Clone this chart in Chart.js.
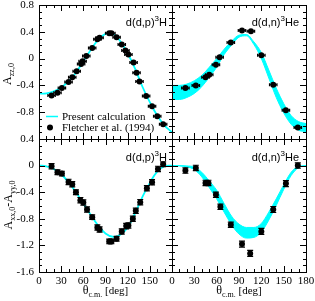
<!DOCTYPE html>
<html lang="en">
<head>
<meta charset="UTF-8">
<title>d(d,p) and d(d,n) tensor analyzing powers</title>
<script src="https://cdn.jsdelivr.net/npm/chart.js"></script>
<style>
  body { margin: 0; background: #fff; }
  #fig { position: relative; width: 315px; height: 301px; }
  #fig canvas { position: absolute; left: 0; top: 0; }
</style>
</head>
<body>
<div id="fig">
  <canvas id="tl" width="315" height="301"></canvas>
  <canvas id="tr" width="315" height="301"></canvas>
  <canvas id="bl" width="315" height="301"></canvas>
  <canvas id="br" width="315" height="301"></canvas>
</div>
<script>
// angle grid of the calculation (deg, c.m.)
const theta = [0, 10, 20, 30, 40, 50, 60, 70, 80, 90, 100, 110, 120, 130, 140, 150, 160, 170, 180];

// A_zz,0  d(d,p)3H
const ddpAzzCalc = [-0.52, -0.52, -0.49, -0.43, -0.34, -0.21, -0.04, 0.13, 0.28, 0.37, 0.37, 0.26, 0.08, -0.15, -0.42, -0.65, -0.85, -1.0, -1.1];
const ddpAzzAng = [17, 25, 31, 40, 45, 51, 57, 59, 64, 72, 79, 82, 95, 98, 105, 112, 117, 121, 128, 132, 136, 145, 153, 160, 168];
const ddpAzzVal = [-0.55, -0.51, -0.44, -0.35, -0.28, -0.19, -0.08, -0.04, 0.04, 0.16, 0.29, 0.31, 0.38, 0.38, 0.32, 0.21, 0.12, 0.06, -0.06, -0.21, -0.34, -0.56, -0.71, -0.86, -0.98];

// A_zz,0  d(d,n)3He (band)
const ddnAzzHi = [-0.40, -0.40, -0.38, -0.33, -0.25, -0.13, 0.0, 0.14, 0.26, 0.35, 0.36, 0.25, 0.09, -0.17, -0.44, -0.67, -0.85, -0.94, -0.97];
const ddnAzzLo = [-0.61, -0.61, -0.58, -0.52, -0.42, -0.28, -0.13, 0.06, 0.20, 0.32, 0.34, 0.21, 0.0, -0.29, -0.58, -0.81, -0.98, -1.07, -1.09];
const ddnAzzAng = [18, 32, 45, 50, 59, 64, 79, 94, 106, 120, 136, 153, 169];
const ddnAzzVal = [-0.44, -0.40, -0.28, -0.24, -0.09, 0.02, 0.24, 0.42, 0.41, 0.05, -0.39, -0.77, -1.03];

// A_xx,0 - A_yy,0  d(d,p)3H
const ddpAxyCalc = [0, -0.01, -0.05, -0.13, -0.25, -0.40, -0.57, -0.74, -0.90, -1.02, -1.07, -1.04, -0.93, -0.72, -0.47, -0.26, -0.09, -0.01, 0];
const ddpAxyAng = [17, 25, 31, 40, 45, 50, 56, 60, 65, 72, 79, 82, 95, 98, 105, 112, 118, 121, 127, 131, 137, 146, 153, 161, 168];
const ddpAxyVal = [-0.01, -0.10, -0.12, -0.245, -0.28, -0.40, -0.52, -0.555, -0.66, -0.775, -0.93, -0.96, -1.14, -1.14, -1.10, -0.99, -0.91, -0.90, -0.80, -0.68, -0.55, -0.34, -0.25, -0.05, 0.02];
const ddpAxyErr = [0.04, 0.035, 0.035, 0.04, 0.04, 0.035, 0.04, 0.04, 0.04, 0.035, 0.04, 0.04, 0.035, 0.035, 0.035, 0.04, 0.04, 0.04, 0.04, 0.04, 0.04, 0.04, 0.04, 0.04, 0.035];

// A_xx,0 - A_yy,0  d(d,n)3He (band)
const ddnAxyHi = [0, 0, -0.005, -0.02, -0.10, -0.23, -0.37, -0.57, -0.76, -0.88, -0.93, -0.93, -0.87, -0.70, -0.50, -0.29, -0.10, -0.015, 0];
const ddnAxyLo = [0, -0.005, -0.02, -0.06, -0.17, -0.33, -0.50, -0.70, -0.89, -1.03, -1.09, -1.08, -1.00, -0.82, -0.60, -0.36, -0.15, -0.03, 0];
const ddnAxyAng = [18, 32, 45, 49, 59, 65, 79, 94, 105, 120, 136, 153, 169];
const ddnAxyVal = [-0.075, -0.035, -0.26, -0.26, -0.44, -0.62, -0.89, -1.18, -1.32, -0.99, -0.66, -0.27, 0.0];
const ddnAxyErr = [0.04, 0.04, 0.04, 0.04, 0.04, 0.04, 0.04, 0.045, 0.045, 0.045, 0.045, 0.045, 0.04];

// horizontal (angular) error of the A_zz,0 data, deg
const angErr = 5;

const CYAN = '#00ffff';
const SERIF = '"Liberation Serif", "Times New Roman", serif';
const SANS = '"Liberation Sans", Arial, sans-serif';

// frame edges in page pixels
const X0 = 39, XM = 172, X1 = 306, Y0 = 5, YM = 139, Y1 = 272;

const pts = (xs, ys) => xs.map((x, i) => ({ x: x, y: ys[i] }));

// text with sub/superscripts: parts = [text, size, dy, family]
function rich(ctx, x, y, parts, align, rot) {
    ctx.save();
    ctx.translate(x, y);
    if (rot) ctx.rotate(rot);
    ctx.fillStyle = '#000';
    ctx.textBaseline = 'alphabetic';
    ctx.textAlign = 'left';
    let w = 0;
    parts.forEach(p => { ctx.font = p[1] + 'px ' + (p[3] || SERIF); w += ctx.measureText(p[0]).width; });
    let cx = align === 'center' ? -w / 2 : (align === 'right' ? -w : 0);
    parts.forEach(p => {
        ctx.font = p[1] + 'px ' + (p[3] || SERIF);
        ctx.fillText(p[0], cx, p[2] || 0);
        cx += ctx.measureText(p[0]).width;
    });
    ctx.restore();
}

const reactP = [['d(d,p)', 11, 0, SANS], ['3', 8, -5, SANS], ['H', 11, 0, SANS]];
const reactN = [['d(d,n)', 11, 0, SANS], ['3', 8, -5, SANS], ['He', 11, 0, SANS]];
const xTitle = [['\u03B8', 12, 0], ['c.m.', 8, 3], [' [deg]', 11, 0]];

const panels = {
    tl: {
        left: true, bottom: false, yMin: -1.2, yMax: 0.8,
        ang: ddpAzzAng, val: ddpAzzVal, dx: angErr,
        calc: [ddpAzzCalc],
        text(ctx) {
            rich(ctx, 167, 26, reactP, 'right');
            rich(ctx, 11, 74, [['A', 12, 0], ['zz,0', 8, 3]], 'center', -Math.PI / 2);
            // legend
            ctx.save();
            ctx.strokeStyle = CYAN; ctx.lineWidth = 1.5;
            ctx.beginPath(); ctx.moveTo(46, 116.5); ctx.lineTo(58, 116.5); ctx.stroke();
            ctx.fillStyle = '#000';
            ctx.beginPath(); ctx.arc(50, 127.5, 3, 0, Math.PI * 2); ctx.fill();
            ctx.restore();
            rich(ctx, 62, 120, [['Present calculation', 11, 0]], 'left');
            rich(ctx, 62, 131, [['Fletcher et al. (1994)', 11, 0]], 'left');
        }
    },
    tr: {
        left: false, bottom: false, yMin: -1.2, yMax: 0.8,
        ang: ddnAzzAng, val: ddnAzzVal, dx: angErr,
        band: [ddnAzzHi, ddnAzzLo],
        text(ctx) { rich(ctx, 299, 26, reactN, 'right'); }
    },
    bl: {
        left: true, bottom: true, yMin: -1.6, yMax: 0.4,
        ang: ddpAxyAng, val: ddpAxyVal, dy: ddpAxyErr,
        calc: [ddpAxyCalc],
        text(ctx) {
            rich(ctx, 167, 161, reactP, 'right');
            rich(ctx, 12, 205, [['A', 12, 0], ['xx,0', 8, 3], ['-A', 12, 0], ['yy,0', 8, 3]], 'center', -Math.PI / 2);
            rich(ctx, (X0 + XM) / 2, 294, xTitle, 'center');
        }
    },
    br: {
        left: false, bottom: true, yMin: -1.6, yMax: 0.4,
        ang: ddnAxyAng, val: ddnAxyVal, dy: ddnAxyErr,
        band: [ddnAxyHi, ddnAxyLo],
        text(ctx) {
            rich(ctx, 299, 161, reactN, 'right');
            rich(ctx, (XM + X1) / 2, 294, xTitle, 'center');
        }
    }
};

// error bars, frame, inward ticks and labels
const decor = {
    id: 'decor',
    afterDatasetsDraw(chart) {
        const p = panels[chart.canvas.id];
        const xs = chart.scales.x, ys = chart.scales.y;
        const ctx = chart.ctx;
        ctx.save();
        ctx.strokeStyle = '#000';
        ctx.lineWidth = 1.2;
        p.ang.forEach((a, i) => {
            const px = xs.getPixelForValue(a), py = ys.getPixelForValue(p.val[i]);
            ctx.beginPath();
            if (p.dx) {
                const x1 = xs.getPixelForValue(a - p.dx), x2 = xs.getPixelForValue(a + p.dx);
                ctx.moveTo(x1, py); ctx.lineTo(x2, py);
                ctx.moveTo(x1, py - 1.5); ctx.lineTo(x1, py + 1.5);
                ctx.moveTo(x2, py - 1.5); ctx.lineTo(x2, py + 1.5);
            }
            if (p.dy) {
                const y1 = ys.getPixelForValue(p.val[i] - p.dy[i]), y2 = ys.getPixelForValue(p.val[i] + p.dy[i]);
                ctx.moveTo(px, y1); ctx.lineTo(px, y2);
                ctx.moveTo(px - 3, y1); ctx.lineTo(px + 3, y1);
                ctx.moveTo(px - 3, y2); ctx.lineTo(px + 3, y2);
            }
            ctx.stroke();
        });
        ctx.restore();
    },
    afterDraw(chart) {
        const p = panels[chart.canvas.id];
        const { left, right, top, bottom } = chart.chartArea;
        const xs = chart.scales.x, ys = chart.scales.y;
        const ctx = chart.ctx;
        ctx.save();
        ctx.strokeStyle = '#000';
        ctx.lineWidth = 1;
        ctx.strokeRect(left + 0.5, top + 0.5, right - left, bottom - top);
        ctx.beginPath();
        for (let v = 0; v <= 180; v += 10) {
            const x = Math.round(xs.getPixelForValue(v)) + 0.5;
            const len = v % 30 === 0 ? 6 : 3;
            ctx.moveTo(x, bottom); ctx.lineTo(x, bottom - len);
            ctx.moveTo(x, top); ctx.lineTo(x, top + len);
        }
        for (let k = Math.round(p.yMin * 10); k <= Math.round(p.yMax * 10); k++) {
            const y = Math.round(ys.getPixelForValue(k / 10)) + 0.5;
            const len = k % 4 === 0 ? 6 : 3;
            ctx.moveTo(left, y); ctx.lineTo(left + len, y);
            ctx.moveTo(right, y); ctx.lineTo(right - len, y);
        }
        ctx.stroke();
        ctx.restore();
        p.text(ctx);
    }
};

function makePanel(id) {
    const p = panels[id];
    const datasets = [{
        data: pts(p.ang, p.val),
        showLine: false,
        pointRadius: 3,
        pointBackgroundColor: '#000',
        pointBorderWidth: 0
    }];
    if (p.calc) {
        datasets.push({
            data: pts(theta, p.calc[0]), showLine: true, pointRadius: 0,
            borderColor: CYAN, borderWidth: 1.8, tension: 0.4, fill: false
        });
    }
    if (p.band) {
        datasets.push({
            data: pts(theta, p.band[0]), showLine: true, pointRadius: 0,
            borderColor: CYAN, borderWidth: 1, cubicInterpolationMode: 'monotone',
            fill: '+1', backgroundColor: CYAN
        });
        datasets.push({
            data: pts(theta, p.band[1]), showLine: true, pointRadius: 0,
            borderColor: CYAN, borderWidth: 1, cubicInterpolationMode: 'monotone', fill: false
        });
    }
    new Chart(document.getElementById(id), {
        type: 'scatter',
        data: { datasets },
        options: {
            responsive: false,
            animation: false,
            devicePixelRatio: 1,
            events: [],
            layout: {
                padding: {
                    left: p.left ? 0 : XM,
                    right: 315 - (p.left ? XM : X1),
                    top: p.bottom ? YM : Y0,
                    bottom: p.bottom ? 0 : 301 - YM
                }
            },
            plugins: { legend: { display: false }, tooltip: { enabled: false } },
            scales: {
                x: {
                    type: 'linear', min: 0, max: 180,
                    grid: { display: false, drawTicks: false },
                    border: { display: false },
                    ticks: {
                        display: p.bottom, stepSize: 30, padding: 3, color: '#000',
                        maxRotation: 0, minRotation: 0, autoSkip: false,
                        font: { family: SERIF, size: 11 },
                        callback: v => (p.left && v === 180) ? '' : String(v)
                    },
                    afterFit: s => {
                        s.height = p.bottom ? 301 - Y1 : 0;
                        s.paddingLeft = s.paddingRight = 0;
                    }
                },
                y: {
                    min: p.yMin, max: p.yMax,
                    grid: { display: false, drawTicks: false },
                    border: { display: false },
                    ticks: {
                        display: p.left, stepSize: 0.4, padding: 5, color: '#000',
                        font: { family: SERIF, size: 11 },
                        callback: v => {
                            const r = Math.round(v * 10) / 10;
                            if (!p.bottom && r < -1.1) return '';
                            return r === 0 ? '0' : String(r);
                        }
                    },
                    afterFit: s => {
                        s.width = p.left ? X0 : 0;
                        s.paddingTop = s.paddingBottom = 0;
                    }
                }
            }
        },
        plugins: [decor]
    });
}

['tl', 'tr', 'bl', 'br'].forEach(makePanel);
</script>
</body>
</html>
